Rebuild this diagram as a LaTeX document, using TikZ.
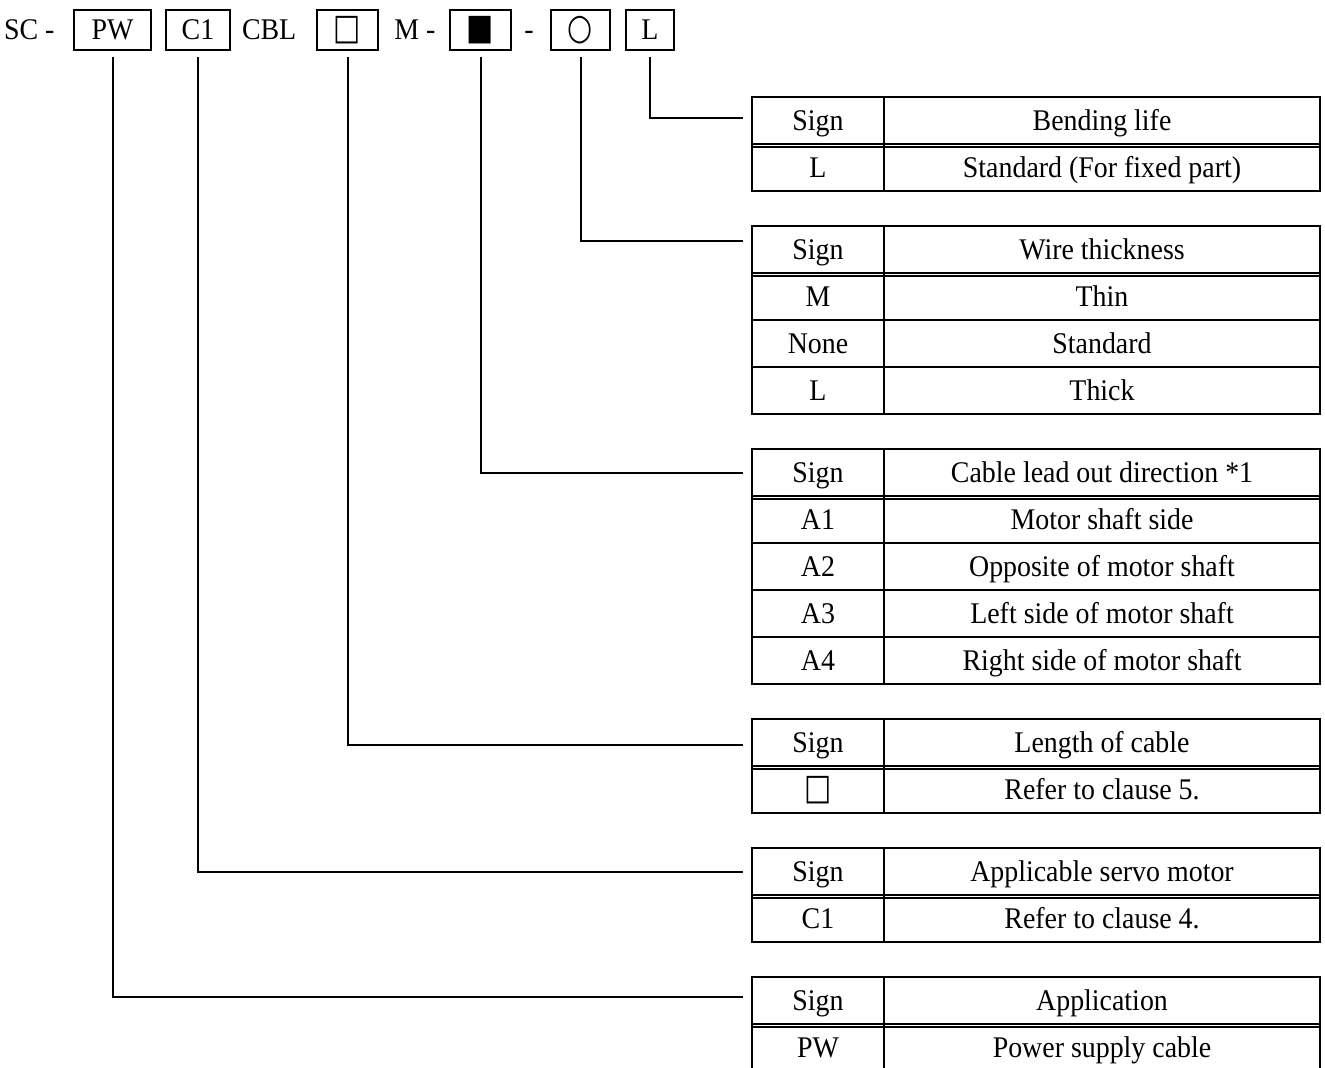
\documentclass[tikz,border=0pt]{standalone}
\usepackage{fontspec}
\setmainfont{Liberation Serif}[FakeStretch=0.93]
\newfontfamily\geofont{DejaVu Sans}[FakeStretch=0.8,Scale=1.2]
\usetikzlibrary{positioning}
\newcommand\tabfont{\fontsize{15pt}{18pt}\selectfont}

\begin{document}
\begin{tikzpicture}[x=0.5pt, y=-0.5pt, node distance=0pt,
  every node/.style={font=\tabfont, text height=10pt, text depth=0pt, inner sep=0pt, outer sep=0pt},
  codebox/.style={draw, line width=1pt, minimum height=20pt},
  signcell/.style={draw, line width=0.75pt, minimum width=66pt, minimum height=23.5pt},
  desccell/.style={draw, line width=0.75pt, minimum width=218pt, minimum height=23.5pt},
  frame/.style={draw, line width=1.1pt},
  dbl/.style={draw, line width=0.75pt},
  lead/.style={draw, line width=1pt}]
\useasboundingbox (0,0) rectangle (1325,1068);
% model code
\node[anchor=west] (sc) at (4,30) {SC -};
\node[codebox, minimum width=38.5pt] (bPW) at (112.5,30) {PW};
\node[codebox, minimum width=32pt] (bC1) at (198,30) {C1};
\node[anchor=west] (cbl) at (242,30) {CBL};
\node[codebox, minimum width=30.5pt] (bLen) at (347.5,30) {{\geofont □}};
\node (mdash) at (415,30) {M -};
\node[codebox, minimum width=30.5pt] (bDir) at (480.5,30) {{\geofont ■}};
\node (dash) at (529,30) {-};
\node[codebox, minimum width=29.5pt] (bWire) at (580.5,30) {{\geofont ○}};
\node[codebox, minimum width=24pt] (bLife) at (650,30) {L};
% bending life
\node[signcell, anchor=north west] (t1h) at (752,97) {Sign};
\node[desccell, right=of t1h] (t1hd) {Bending life};
\node[signcell, below=of t1h] (t1a) {L};
\node[desccell, right=of t1a] (t1ad) {Standard (For fixed part)};
\draw[dbl] ([yshift=-1.5pt]t1h.south west) -- ([yshift=-1.5pt]t1hd.south east);
\draw[frame] (t1h.north west) rectangle (t1ad.south east);
% wire thickness
\node[signcell, anchor=north west] (t2h) at (752,226) {Sign};
\node[desccell, right=of t2h] (t2hd) {Wire thickness};
\node[signcell, below=of t2h] (t2a) {M};
\node[desccell, right=of t2a] (t2ad) {Thin};
\node[signcell, below=of t2a] (t2b) {None};
\node[desccell, right=of t2b] (t2bd) {Standard};
\node[signcell, below=of t2b] (t2c) {L};
\node[desccell, right=of t2c] (t2cd) {Thick};
\draw[dbl] ([yshift=-1.5pt]t2h.south west) -- ([yshift=-1.5pt]t2hd.south east);
\draw[frame] (t2h.north west) rectangle (t2cd.south east);
% lead out direction
\node[signcell, anchor=north west] (t3h) at (752,449) {Sign};
\node[desccell, right=of t3h] (t3hd) {Cable lead out direction *1};
\node[signcell, below=of t3h] (t3a) {A1};
\node[desccell, right=of t3a] (t3ad) {Motor shaft side};
\node[signcell, below=of t3a] (t3b) {A2};
\node[desccell, right=of t3b] (t3bd) {Opposite of motor shaft};
\node[signcell, below=of t3b] (t3c) {A3};
\node[desccell, right=of t3c] (t3cd) {Left side of motor shaft};
\node[signcell, below=of t3c] (t3d) {A4};
\node[desccell, right=of t3d] (t3dd) {Right side of motor shaft};
\draw[dbl] ([yshift=-1.5pt]t3h.south west) -- ([yshift=-1.5pt]t3hd.south east);
\draw[frame] (t3h.north west) rectangle (t3dd.south east);
% length
\node[signcell, anchor=north west] (t4h) at (752,719) {Sign};
\node[desccell, right=of t4h] (t4hd) {Length of cable};
\node[signcell, below=of t4h] (t4a) {{\geofont □}};
\node[desccell, right=of t4a] (t4ad) {Refer to clause 5.};
\draw[dbl] ([yshift=-1.5pt]t4h.south west) -- ([yshift=-1.5pt]t4hd.south east);
\draw[frame] (t4h.north west) rectangle (t4ad.south east);
% servo motor
\node[signcell, anchor=north west] (t5h) at (752,848) {Sign};
\node[desccell, right=of t5h] (t5hd) {Applicable servo motor};
\node[signcell, below=of t5h] (t5a) {C1};
\node[desccell, right=of t5a] (t5ad) {Refer to clause 4.};
\draw[dbl] ([yshift=-1.5pt]t5h.south west) -- ([yshift=-1.5pt]t5hd.south east);
\draw[frame] (t5h.north west) rectangle (t5ad.south east);
% application
\node[signcell, anchor=north west] (t6h) at (752,977) {Sign};
\node[desccell, right=of t6h] (t6hd) {Application};
\node[signcell, below=of t6h] (t6a) {PW};
\node[desccell, right=of t6a] (t6ad) {Power supply cable};
\draw[dbl] ([yshift=-1.5pt]t6h.south west) -- ([yshift=-1.5pt]t6hd.south east);
\draw[frame] (t6h.north west) rectangle (t6ad.south east);
% leaders
\coordinate (e1) at (743,118);
\coordinate (e2) at (743,241);
\coordinate (e3) at (743,473);
\coordinate (e4) at (743,745);
\coordinate (e5) at (743,872);
\coordinate (e6) at (743,997);
\draw[lead] ([yshift=-3.5pt]bLife.south) |- (e1);
\draw[lead] ([yshift=-3.5pt]bWire.south) |- (e2);
\draw[lead] ([yshift=-3.5pt]bDir.south) |- (e3);
\draw[lead] ([yshift=-3.5pt]bLen.south) |- (e4);
\draw[lead] ([yshift=-3.5pt]bC1.south) |- (e5);
\draw[lead] ([yshift=-3.5pt]bPW.south) |- (e6);
\end{tikzpicture}
\end{document}
